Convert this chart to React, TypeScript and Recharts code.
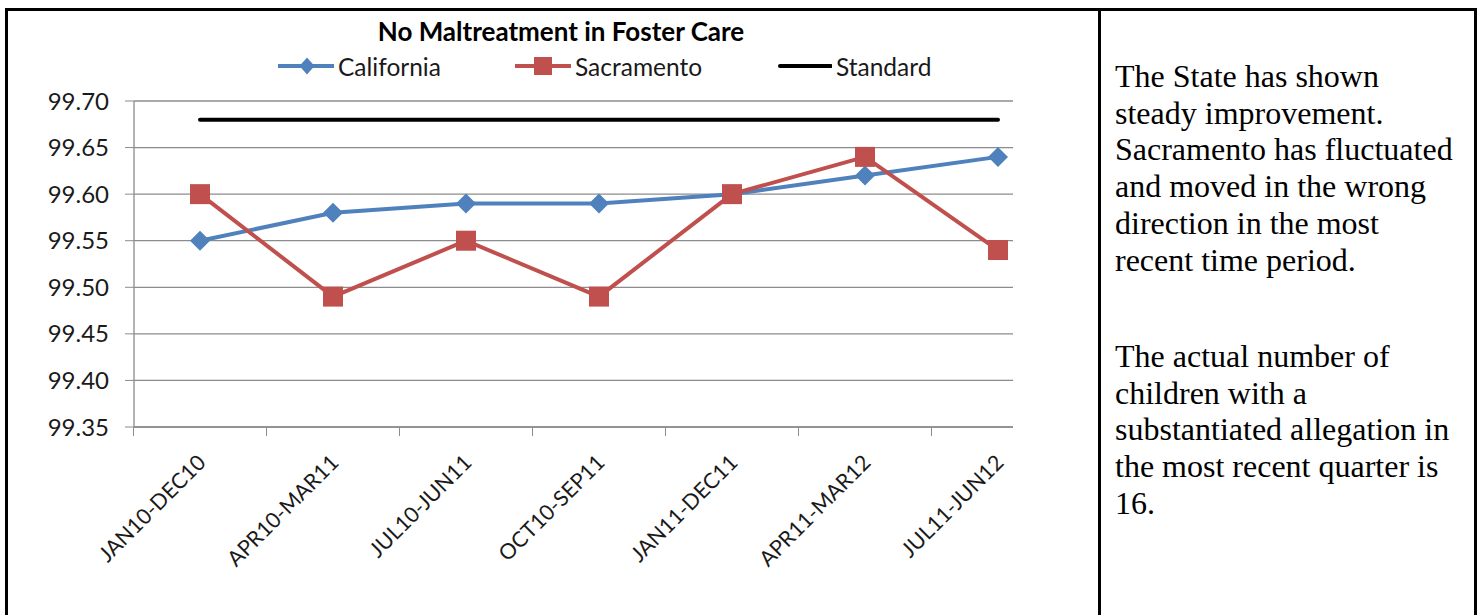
import React from "react";
import { CartesianGrid, Line, LineChart, XAxis, YAxis } from "recharts";

const periods = [
  "JAN10-DEC10",
  "APR10-MAR11",
  "JUL10-JUN11",
  "OCT10-SEP11",
  "JAN11-DEC11",
  "APR11-MAR12",
  "JUL11-JUN12",
];
const california = [99.55, 99.58, 99.59, 99.59, 99.6, 99.62, 99.64];
const sacramento = [99.6, 99.49, 99.55, 99.49, 99.6, 99.64, 99.54];
const standard = [99.68, 99.68, 99.68, 99.68, 99.68, 99.68, 99.68];
const yTicks = [99.35, 99.4, 99.45, 99.5, 99.55, 99.6, 99.65, 99.7];

const BLUE = "#4F81BD";
const RED = "#C0504D";
const GRID = "#8c8c8c";
const FONT = "Lato, 'Open Sans', sans-serif";
const SERIF = "'Liberation Serif', 'Times New Roman', serif";

const data = periods.map((period, i) => ({
  period,
  California: california[i],
  Sacramento: sacramento[i],
  Standard: standard[i],
}));

function Diamond({ cx, cy }: any) {
  if (cx == null || cy == null) return null;
  const r = 10;
  return (
    <polygon
      points={`${cx},${cy - r} ${cx + r},${cy} ${cx},${cy + r} ${cx - r},${cy}`}
      fill={BLUE}
    />
  );
}

function Square({ cx, cy }: any) {
  if (cx == null || cy == null) return null;
  return <rect x={cx - 10} y={cy - 10} width={20} height={20} fill={RED} />;
}

// Excel draws tick marks between categories, label ends near the point
function PeriodTick({ x, y, payload }: any) {
  const axisY = y - 8;
  const tx = x + 7;
  const ty = axisY + 37;
  return (
    <g>
      <line x1={x - 66.5} x2={x - 66.5} y1={axisY} y2={axisY + 9} stroke={GRID} />
      <text
        x={tx}
        y={ty}
        textAnchor="end"
        transform={`rotate(-45 ${tx} ${ty})`}
        fontSize={21.5}
        fontFamily={FONT}
        fill="#1a1a1a"
      >
        {payload.value}
      </text>
    </g>
  );
}

function LegendItem({ left, width, label, mark }: { left: number; width: number; label: string; mark: React.ReactNode }) {
  return (
    <div style={{ position: "absolute", left, top: 51, height: 30, display: "flex", alignItems: "center" }}>
      <svg width={width} height={30} style={{ marginRight: 4 }}>
        {mark}
      </svg>
      <span style={{ fontFamily: FONT, fontSize: 24.5, color: "#1a1a1a" }}>{label}</span>
    </div>
  );
}

const paragraph: React.CSSProperties = {
  position: "absolute",
  left: 1115,
  fontFamily: SERIF,
  fontSize: 32,
  lineHeight: "36.7px",
  color: "#000",
  whiteSpace: "nowrap",
};

export default function App() {
  return (
    <div style={{ position: "absolute", left: 0, top: 0, width: 1479, height: 615, background: "#fff", overflow: "hidden" }}>
      {/* table borders */}
      <div style={{ position: "absolute", left: 5, top: 8, width: 3, height: 620, background: "#000" }} />
      <div style={{ position: "absolute", left: 5, top: 8, width: 1472, height: 3, background: "#000" }} />
      <div style={{ position: "absolute", left: 1098, top: 8, width: 3, height: 620, background: "#000" }} />
      <div style={{ position: "absolute", left: 1474, top: 8, width: 3, height: 620, background: "#000" }} />

      <div style={{ position: "absolute", left: 0, top: 0 }}>
        <LineChart
          width={1100}
          height={615}
          data={data}
          margin={{ top: 101, right: 87, bottom: 0, left: 0 }}
        >
          <CartesianGrid vertical={false} stroke={GRID} strokeWidth={1.3} />
          <XAxis
            dataKey="period"
            padding={{ left: 66, right: 15 }}
            axisLine={{ stroke: GRID, strokeWidth: 1.3 }}
            tickLine={false}
            tick={<PeriodTick />}
            interval={0}
            height={188}
          />
          <YAxis
            width={134}
            domain={[99.35, 99.7]}
            ticks={yTicks}
            tickFormatter={(v: number) => v.toFixed(2)}
            axisLine={{ stroke: GRID, strokeWidth: 1.3 }}
            tickLine={{ stroke: GRID }}
            tickSize={9}
            tickMargin={16}
            tick={{ fontSize: 24, fontFamily: FONT, fill: "#1a1a1a" }}
          />
          <Line
            dataKey="Standard"
            stroke="#000"
            strokeWidth={4}
            strokeLinecap="round"
            dot={false}
            activeDot={false}
            isAnimationActive={false}
          />
          <Line
            dataKey="California"
            stroke={BLUE}
            strokeWidth={4}
            dot={<Diamond />}
            activeDot={false}
            isAnimationActive={false}
          />
          <Line
            dataKey="Sacramento"
            stroke={RED}
            strokeWidth={4}
            dot={<Square />}
            activeDot={false}
            isAnimationActive={false}
          />
        </LineChart>
      </div>

      {/* title + legend */}
      <div
        style={{
          position: "absolute",
          left: 261,
          width: 600,
          top: 14,
          textAlign: "center",
          fontFamily: FONT,
          fontWeight: 700,
          fontSize: 26,
          lineHeight: "34px",
          color: "#000",
        }}
      >
        No Maltreatment in Foster Care
      </div>
      <LegendItem
        left={278}
        width={56}
        label="California"
        mark={
          <g>
            <line x1={0} x2={56} y1={15} y2={15} stroke={BLUE} strokeWidth={4} />
            <polygon points="29,6.5 36.5,15 29,23.5 21.5,15" fill={BLUE} />
          </g>
        }
      />
      <LegendItem
        left={515}
        width={56}
        label="Sacramento"
        mark={
          <g>
            <line x1={0} x2={56} y1={15} y2={15} stroke={RED} strokeWidth={4} />
            <rect x={19} y={6} width={18} height={18} fill={RED} />
          </g>
        }
      />
      <LegendItem
        left={778}
        width={54}
        label="Standard"
        mark={<line x1={2} x2={53} y1={15} y2={15} stroke="#000" strokeWidth={4} strokeLinecap="round" />}
      />

      {/* commentary */}
      <div style={{ ...paragraph, top: 58 }}>
        The State has shown
        <br />
        steady improvement.
        <br />
        Sacramento has fluctuated
        <br />
        and moved in the wrong
        <br />
        direction in the most
        <br />
        recent time period.
      </div>
      <div style={{ ...paragraph, top: 338 }}>
        The actual number of
        <br />
        children with a
        <br />
        substantiated allegation in
        <br />
        the most recent quarter is
        <br />
        16.
      </div>
    </div>
  );
}
